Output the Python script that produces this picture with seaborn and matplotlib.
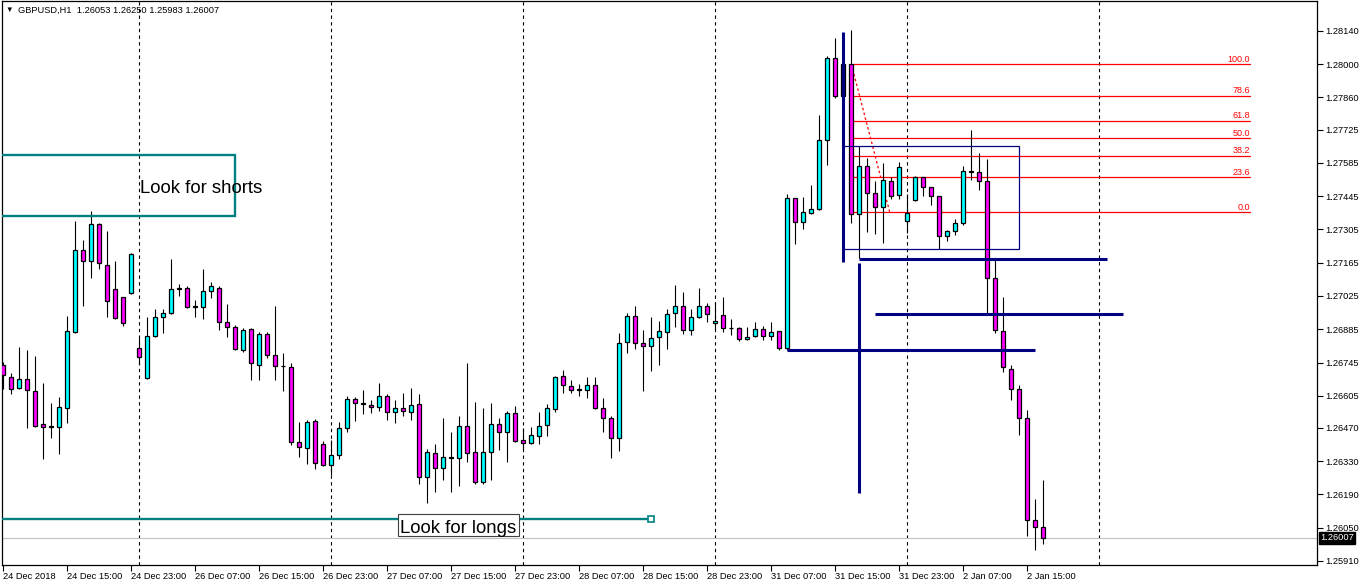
import numpy as np
import pandas as pd
import seaborn as sns
import matplotlib.pyplot as plt
from matplotlib.patches import Rectangle

sns.set_theme(style="white")
plt.rcParams['font.family'] = ['Liberation Sans', 'DejaVu Sans']

# GBPUSD H1 candles, 24 Dec 2018 07:00 .. 2 Jan 2019 17:00
opens = [1.26735, 1.26686, 1.26637, 1.26675, 1.26625, 1.26485, 1.26476, 1.26473, 1.26553, 1.26874,
         1.27217, 1.27170, 1.27327, 1.27154, 1.27053, 1.27020, 1.27036, 1.26805, 1.26679, 1.26856,
         1.26936, 1.26952, 1.27055, 1.27058, 1.26980, 1.26980, 1.27045, 1.27058, 1.26914, 1.26893,
         1.26798, 1.26885, 1.26734, 1.26864, 1.26776, 1.26729, 1.26725, 1.26410, 1.26384, 1.26498,
         1.26401, 1.26313, 1.26355, 1.26468, 1.26590, 1.26572, 1.26568, 1.26557, 1.26603, 1.26536,
         1.26553, 1.26536, 1.26569, 1.26262, 1.26363, 1.26300, 1.26345, 1.26342, 1.26477, 1.26367,
         1.26244, 1.26367, 1.26485, 1.26452, 1.26532, 1.26418, 1.26405, 1.26435, 1.26481, 1.26548,
         1.26687, 1.26645, 1.26630, 1.26628, 1.26649, 1.26553, 1.26510, 1.26426, 1.26830, 1.26940,
         1.26826, 1.26813, 1.26851, 1.26872, 1.26952, 1.26982, 1.26881, 1.26936, 1.26982, 1.26910,
         1.26944, 1.26889, 1.26889, 1.26843, 1.26856, 1.26885, 1.26856, 1.26877, 1.26805, 1.27436,
         1.27335, 1.27373, 1.27390, 1.27680, 1.28025, 1.27866, 1.28000, 1.27369, 1.27571, 1.27457,
         1.27398, 1.27508, 1.27449, 1.27340, 1.27428, 1.27525, 1.27483, 1.27445, 1.27276, 1.27297,
         1.27331, 1.27548, 1.27546, 1.27508, 1.27100, 1.26877, 1.26719, 1.26632, 1.26510, 1.26081,
         1.26053]
highs = [1.26747, 1.26700, 1.26812, 1.26798, 1.26773, 1.26660, 1.26576, 1.26600, 1.26941, 1.27341,
         1.27261, 1.27383, 1.27334, 1.27299, 1.27172, 1.27022, 1.27206, 1.26847, 1.26938, 1.26969,
         1.26969, 1.27181, 1.27074, 1.27066, 1.27008, 1.27138, 1.27084, 1.27066, 1.26990, 1.26902,
         1.26889, 1.26889, 1.26872, 1.26872, 1.26982, 1.26784, 1.26742, 1.26494, 1.26502, 1.26506,
         1.26414, 1.26418, 1.26495, 1.26604, 1.26600, 1.26630, 1.26588, 1.26660, 1.26612, 1.26586,
         1.26616, 1.26637, 1.26612, 1.26380, 1.26401, 1.26510, 1.26452, 1.26519, 1.26742, 1.26579,
         1.26554, 1.26575, 1.26510, 1.26540, 1.26561, 1.26468, 1.26473, 1.26536, 1.26569, 1.26687,
         1.26712, 1.26670, 1.26654, 1.26683, 1.26683, 1.26597, 1.26521, 1.26868, 1.26952, 1.26983,
         1.26881, 1.26936, 1.26919, 1.26969, 1.27070, 1.27041, 1.26969, 1.27058, 1.26994, 1.26999,
         1.27020, 1.26927, 1.26896, 1.26893, 1.26914, 1.26898, 1.26914, 1.26879, 1.27454, 1.27438,
         1.27442, 1.27492, 1.27786, 1.28034, 1.28111, 1.28046, 1.28144, 1.27655, 1.27605, 1.27508,
         1.27584, 1.27525, 1.27588, 1.27453, 1.27529, 1.27527, 1.27485, 1.27447, 1.27301, 1.27348,
         1.27571, 1.27722, 1.27626, 1.27600, 1.27184, 1.27020, 1.26734, 1.26649, 1.26544, 1.26170,
         1.26250]
lows = [1.26634, 1.26611, 1.26635, 1.26471, 1.26475, 1.26338, 1.26429, 1.26362, 1.26492, 1.26870,
        1.26984, 1.27102, 1.27138, 1.26938, 1.26927, 1.26900, 1.27034, 1.26739, 1.26677, 1.26851,
        1.26871, 1.26950, 1.27026, 1.26976, 1.26938, 1.26927, 1.27015, 1.26881, 1.26854, 1.26799,
        1.26790, 1.26670, 1.26670, 1.26763, 1.26670, 1.26627, 1.26397, 1.26346, 1.26317, 1.26296,
        1.26309, 1.26271, 1.26338, 1.26452, 1.26500, 1.26530, 1.26534, 1.26543, 1.26505, 1.26492,
        1.26521, 1.26505, 1.26233, 1.26153, 1.26202, 1.26252, 1.26202, 1.26227, 1.26328, 1.26235,
        1.26235, 1.26252, 1.26378, 1.26328, 1.26412, 1.26380, 1.26403, 1.26401, 1.26435, 1.26536,
        1.26616, 1.26616, 1.26603, 1.26595, 1.26548, 1.26451, 1.26342, 1.26371, 1.26784, 1.26801,
        1.26627, 1.26711, 1.26736, 1.26801, 1.26893, 1.26864, 1.26860, 1.26931, 1.26914, 1.26885,
        1.26872, 1.26860, 1.26834, 1.26839, 1.26851, 1.26839, 1.26839, 1.26797, 1.26798, 1.27245,
        1.27306, 1.27369, 1.27386, 1.27575, 1.27857, 1.27815, 1.27331, 1.27184, 1.27293, 1.27285,
        1.27247, 1.27432, 1.27432, 1.27289, 1.27426, 1.27445, 1.27407, 1.27222, 1.27255, 1.27280,
        1.27323, 1.27512, 1.27470, 1.26949, 1.26868, 1.26704, 1.26586, 1.26439, 1.26017, 1.25958,
        1.25983]
closes = [1.26693, 1.26632, 1.26675, 1.26628, 1.26479, 1.26475, 1.26475, 1.26557, 1.26877, 1.27217,
          1.27170, 1.27327, 1.27163, 1.27003, 1.26931, 1.26910, 1.27201, 1.26767, 1.26856, 1.26936,
          1.26952, 1.27053, 1.27056, 1.26978, 1.26981, 1.27045, 1.27066, 1.26914, 1.26893, 1.26801,
          1.26881, 1.26742, 1.26864, 1.26776, 1.26729, 1.26730, 1.26410, 1.26388, 1.26494, 1.26321,
          1.26313, 1.26355, 1.26468, 1.26590, 1.26574, 1.26573, 1.26557, 1.26603, 1.26536, 1.26553,
          1.26540, 1.26565, 1.26262, 1.26367, 1.26300, 1.26346, 1.26346, 1.26477, 1.26363, 1.26244,
          1.26367, 1.26485, 1.26452, 1.26532, 1.26414, 1.26405, 1.26439, 1.26477, 1.26553, 1.26683,
          1.26649, 1.26628, 1.26631, 1.26649, 1.26553, 1.26510, 1.26426, 1.26826, 1.26940, 1.26826,
          1.26813, 1.26847, 1.26877, 1.26948, 1.26982, 1.26881, 1.26936, 1.26982, 1.26948, 1.26919,
          1.26889, 1.26890, 1.26843, 1.26851, 1.26885, 1.26856, 1.26872, 1.26805, 1.27436, 1.27335,
          1.27377, 1.27390, 1.27680, 1.28025, 1.27866, 1.28000, 1.27369, 1.27571, 1.27457, 1.27398,
          1.27512, 1.27445, 1.27567, 1.27373, 1.27525, 1.27483, 1.27445, 1.27276, 1.27297, 1.27331,
          1.27550, 1.27549, 1.27508, 1.27100, 1.26881, 1.26725, 1.26632, 1.26510, 1.26081, 1.26052,
          1.26007]

date_labels = ['24 Dec 2018', '24 Dec 15:00', '24 Dec 23:00', '26 Dec 07:00', '26 Dec 15:00',
               '26 Dec 23:00', '27 Dec 07:00', '27 Dec 15:00', '27 Dec 23:00', '28 Dec 07:00',
               '28 Dec 15:00', '28 Dec 23:00', '31 Dec 07:00', '31 Dec 15:00', '31 Dec 23:00',
               '2 Jan 07:00', '2 Jan 15:00']
day_starts = [17, 41, 65, 89, 113, 137]
price_ticks = [1.28140, 1.28000, 1.27860, 1.27725, 1.27585, 1.27445, 1.27305, 1.27165, 1.27025,
               1.26885, 1.26745, 1.26605, 1.26470, 1.26330, 1.26190, 1.26050, 1.25910]
last_price = 1.26007

# fibonacci retracement from 1.28000 down to 1.27377
fib_high = 1.28000
fib_low = 1.27377
fib_ratios = [100.0, 78.6, 61.8, 50.0, 38.2, 23.6, 0.0]

df = pd.DataFrame({'open': opens, 'high': highs, 'low': lows, 'close': closes})
df['bar'] = np.arange(len(df))
df['bull'] = df['close'] >= df['open']

fig = plt.figure(figsize=(13.62, 5.85), dpi=100)
ax = fig.add_axes([2 / 1362, 20 / 585, 1315 / 1362, 564 / 585])
ax.set_facecolor('white')

# wicks + bodies
ax.vlines(df['bar'], df['low'], df['high'], color='black', lw=0.8, zorder=3)
body_bottom = np.minimum(df['open'], df['close'])
body_height = np.maximum((df['close'] - df['open']).abs(), 0.00002)
colors = np.where(df['bull'], '#00FFFF', '#FF00FF')
ax.bar(df['bar'], body_height, bottom=body_bottom, width=0.52, color=colors,
       edgecolor='black', linewidth=0.9, zorder=4)

# period separators
for d in day_starts:
    ax.axvline(d, color='black', lw=0.8, ls=(0, (3, 3)), zorder=1)

# current price line
ax.axhline(last_price, color='#c0c0c0', lw=0.8, zorder=1)

# fibonacci levels
fib_rows = []
for r in fib_ratios:
    level = fib_low + (fib_high - fib_low) * r / 100
    fib_rows.append({'level': r, 'bar': 106.2, 'price': level})
    fib_rows.append({'level': r, 'bar': 155.8, 'price': level})
    ax.text(155.8, level + 0.00003, f'{r:.1f}', color='red', fontsize=6.5,
            ha='right', va='bottom', zorder=5)
fib_df = pd.DataFrame(fib_rows)
sns.lineplot(data=fib_df, x='bar', y='price', units='level', estimator=None,
             color='red', lw=0.9, ax=ax, legend=False, zorder=2)
ax.plot([106, 110.8], [fib_high, fib_low], color='red', lw=0.9, ls=(0, (2, 2)), zorder=2)

# navy levels drawn by hand
navy = '#000080'
ax.vlines(105, 1.27168, 1.28136, color=navy, lw=2.2, zorder=5)
ax.vlines(107, 1.26196, 1.27164, color=navy, lw=2.2, zorder=5)
ax.hlines(1.27181, 107, 138, color=navy, lw=2.2, zorder=5)
ax.hlines(1.26947, 109, 140, color=navy, lw=2.2, zorder=5)
ax.hlines(1.26796, 98, 129, color=navy, lw=2.2, zorder=5)
ax.add_patch(Rectangle((105, 1.27222), 22, 1.27655 - 1.27222, fill=False,
                       edgecolor=navy, lw=0.9, zorder=5))

# zones
teal = '#008080'
ax.add_patch(Rectangle((-3, 1.27363), 31.96, 1.27616 - 1.27363, fill=False,
                       edgecolor=teal, lw=1.7, zorder=5))
ax.text(17.1, 1.27459, 'Look for shorts', fontsize=13.4, color='black',
        ha='left', va='baseline', zorder=6)
ax.plot([-1, 81], [1.26087, 1.26087], color=teal, lw=1.7, zorder=5)
ax.plot([81], [1.26087], marker='s', ms=4, mfc='white', mec=teal, mew=1.2, zorder=6)
ax.add_patch(Rectangle((49.375, 1.26015), 15.125, 0.00092, facecolor='white',
                       edgecolor='#404040', lw=0.8, zorder=6))
ax.text(49.6, 1.26027, 'Look for longs', fontsize=13.4, color='black',
        ha='left', va='baseline', zorder=7)

# axes
ax.set_xlim(-0.16, 164.2)
ax.set_ylim(1.25893, 1.28266)
ax.set_xlabel('')
ax.set_ylabel('')
ax.set_xticks(np.arange(0, 129, 8))
ax.set_xticklabels(date_labels, ha='left')
ax.set_yticks(price_ticks)
ax.set_yticklabels([f'{p:.5f}' for p in price_ticks])
ax.yaxis.tick_right()
ax.tick_params(axis='x', bottom=True, direction='out', length=4, width=0.8,
               labelsize=6.7, pad=1, colors='black')
ax.tick_params(axis='y', right=True, left=False, labelright=True, labelleft=False,
               direction='out', length=4, width=0.8, labelsize=6.7, pad=2, colors='black')
for s in ax.spines.values():
    s.set_color('black')
    s.set_linewidth(0.9)
ax.grid(False)

ax.text(1.0025, last_price, f'{last_price:.5f}', transform=ax.get_yaxis_transform(),
        color='white', fontsize=6.7, ha='left', va='center', zorder=8, clip_on=False,
        bbox=dict(facecolor='black', edgecolor='black', pad=1.0))

fig.text(5 / 1362, 1 - 10 / 585, '\u25bc', fontsize=5.5, color='black', va='center')
fig.text(18 / 1362, 1 - 10 / 585, 'GBPUSD,H1  1.26053 1.26250 1.25983 1.26007',
         fontsize=6.7, color='black', va='center')

fig.savefig('out.png', dpi=100)
